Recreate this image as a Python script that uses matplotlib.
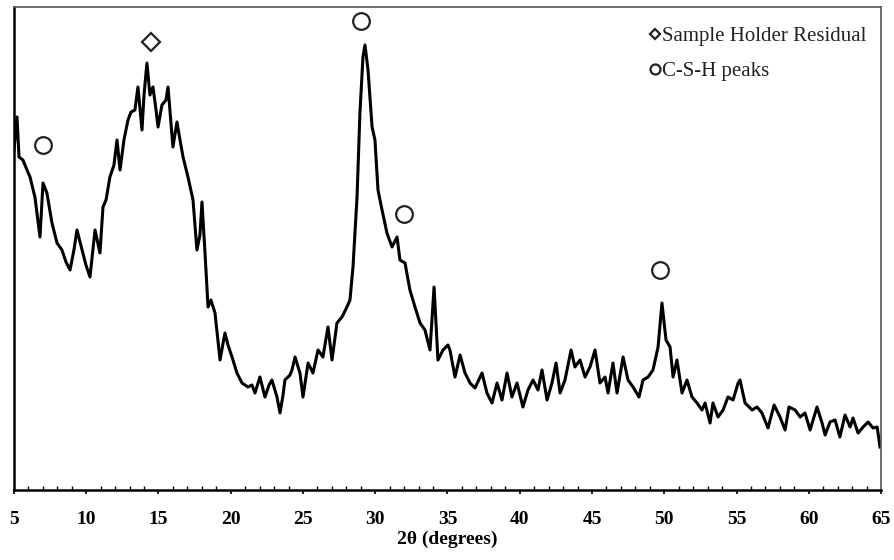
import matplotlib.pyplot as plt
import numpy as np

# XRD pattern
two_theta = [
    5.00, 5.21, 5.35, 5.62, 5.90, 6.11, 6.45, 6.80, 7.01, 7.28, 7.63, 7.98, 8.32, 8.60, 8.88,
    9.15, 9.36, 9.71, 9.98, 10.26, 10.61, 10.95, 11.16, 11.37, 11.64, 11.92, 12.13, 12.34,
    12.61, 12.89, 13.10, 13.37, 13.58, 13.86, 14.00, 14.20, 14.41, 14.62, 14.83, 14.97, 15.24,
    15.52, 15.66, 16.00, 16.28, 16.49, 16.70, 17.04, 17.39, 17.66, 17.87, 18.01, 18.22, 18.43,
    18.63, 18.91, 19.26, 19.60, 19.81, 20.09, 20.43, 20.78, 21.19, 21.47, 21.68, 22.02, 22.37,
    22.65, 22.85, 23.20, 23.41, 23.62, 23.75, 24.10, 24.24, 24.45, 24.79, 25.00, 25.35, 25.69,
    26.04, 26.38, 26.73, 27.01, 27.35, 27.70, 28.04, 28.25, 28.46, 28.74, 28.94, 29.15, 29.29,
    29.50, 29.78, 29.98, 30.19, 30.47, 30.81, 31.16, 31.51, 31.71, 32.06, 32.40, 32.75, 33.10,
    33.44, 33.79, 34.07, 34.34, 34.69, 35.03, 35.17, 35.52, 35.87, 36.21, 36.56, 36.90, 37.39,
    37.73, 38.08, 38.43, 38.77, 39.12, 39.46, 39.81, 40.22, 40.57, 40.92, 41.26, 41.54, 41.89,
    42.23, 42.51, 42.79, 43.13, 43.55, 43.82, 44.17, 44.52, 44.86, 45.21, 45.55, 45.90, 46.11,
    46.45, 46.73, 47.15, 47.49, 47.84, 48.25, 48.53, 48.88, 49.22, 49.57, 49.84, 50.12, 50.40,
    50.61, 50.88, 51.23, 51.57, 51.92, 52.27, 52.61, 52.82, 53.17, 53.37, 53.72, 54.07, 54.41,
    54.76, 55.11, 55.24, 55.59, 56.08, 56.42, 56.76, 57.18, 57.60, 58.01, 58.36, 58.63, 59.05,
    59.40, 59.74, 60.09, 60.57, 60.92, 61.13, 61.47, 61.82, 62.15, 62.51, 62.86, 63.06, 63.41,
    63.76, 64.10, 64.45, 64.73, 64.93,
]
intensity = [
    340, 373, 333, 330, 320, 313, 293, 253, 307, 297, 267, 247, 240, 228, 220,
    240, 260, 240, 225, 213, 260, 237, 283, 290, 313, 325, 350, 320,
    350, 370, 378, 380, 403, 360, 395, 427, 395, 403, 380, 363, 385,
    390, 403, 343, 368, 350, 333, 313, 290, 240, 255, 288, 237, 183,
    190, 177, 130, 157, 145, 133, 117, 107, 103, 105, 97, 113, 93,
    105, 110, 93, 77, 95, 110, 115, 120, 133, 117, 93, 127, 117,
    140, 133, 163, 130, 167, 173, 183, 190, 223, 293, 377, 433, 445,
    420, 363, 350, 300, 280, 257, 243, 253, 230, 227, 200, 183, 167,
    160, 140, 203, 130, 140, 145, 140, 113, 135, 117, 107, 102, 117,
    97, 87, 107, 90, 117, 93, 107, 83, 100, 110, 100, 120, 90,
    107, 127, 97, 110, 140, 123, 130, 113, 123, 140, 107, 113, 97,
    127, 97, 133, 110, 103, 93, 110, 113, 120, 143, 187, 150, 143,
    113, 130, 97, 110, 93, 87, 80, 87, 67, 87, 73, 80, 93,
    90, 107, 110, 87, 80, 83, 77, 62, 85, 73, 60, 83, 80,
    73, 77, 60, 83, 67, 55, 68, 70, 53, 75, 63, 72, 57,
    63, 68, 62, 63, 43,
]

# peak markers
csh_x = [7.01, 29.01, 31.99, 49.70]
csh_y = [345, 469, 276, 220]
holder_x = [14.48]
holder_y = [448]

serif = ['Liberation Serif', 'DejaVu Serif']

fig = plt.figure(figsize=(8.95, 5.6), dpi=100)
ax = fig.add_axes([0.0156, 0.125, 0.9688, 0.8625])

ax.plot(two_theta, intensity, color='black', lw=2.2)
ax.plot(holder_x, holder_y, linestyle='none', marker='D', markersize=9,
        markerfacecolor='white', markeredgecolor='#222222', markeredgewidth=1.6,
        label='Sample Holder Residual')
ax.plot(csh_x, csh_y, linestyle='none', marker='o', markersize=12,
        markerfacecolor='white', markeredgecolor='#222222', markeredgewidth=1.6,
        label='C-S-H peaks')

ax.set_xlim(5, 65)
ax.set_ylim(0, 483)
ax.set_xticks(np.arange(5, 66, 5))
ax.set_xticks(np.arange(5, 66, 1), minor=True)
ax.set_yticks([])
ax.tick_params(axis='x', which='major', direction='out', length=3, width=1.2, pad=12)
ax.tick_params(axis='x', which='minor', direction='in', length=3, width=1.0)
for lab in ax.get_xticklabels():
    lab.set_family(serif)
    lab.set_fontweight('bold')
    lab.set_fontsize(14)

ax.set_xlabel('2θ (degrees)', family=serif, fontweight='bold', fontsize=14, labelpad=2)

for side in ['left', 'bottom']:
    ax.spines[side].set_linewidth(1.8)
for side in ['top', 'right']:
    ax.spines[side].set_linewidth(1.2)
    ax.spines[side].set_color('#555555')

leg = ax.legend(loc='upper right', bbox_to_anchor=(1.0, 0.99), frameon=False,
                markerscale=0.6, handlelength=0.6, handletextpad=0.05, labelspacing=0.75,
                borderaxespad=0.3, prop={'family': serif, 'size': 15})
for txt in leg.get_texts():
    txt.set_color('#222222')

fig.savefig('out.png', dpi=100)
